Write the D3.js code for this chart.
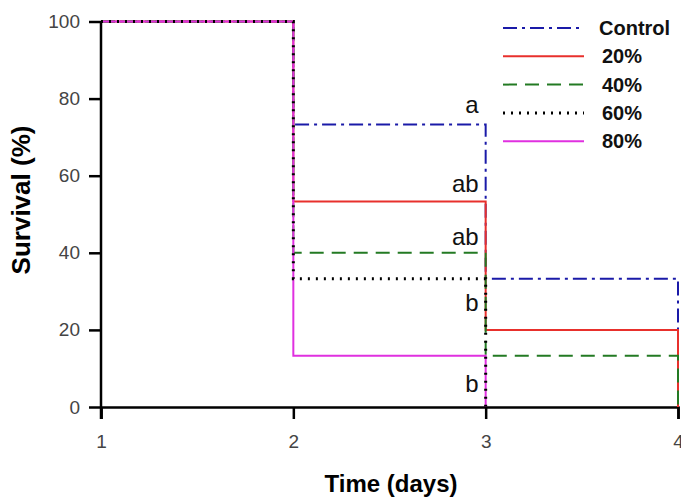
<!DOCTYPE html>
<html lang="en">
<head>
<meta charset="utf-8">
<title>Survival</title>
<script src="https://cdn.jsdelivr.net/npm/d3@7"></script>
<style>
  body { margin: 0; background: #fff; }
  text { font-family: "Liberation Sans", Arial, sans-serif; }
</style>
</head>
<body>
<script>
// survival curves, days 1-4
var days = [1, 2, 3, 4];
var control = [100, 73.3, 33.3, 0];
var p20 = [100, 53.3, 20, 0];
var p40 = [100, 40, 13.3, 0];
var p60 = [100, 33.3, 0];
var p80 = [100, 13.3, 0];
var seriesNames = ["Control", "20%", "40%", "60%", "80%"];
var letters = ["a", "ab", "ab", "b", "b"];
var letterValues = [76.3, 55.8, 42, 25, 3.9];

var series = [
  {name: "Control", values: control, color: "#1a1aa8", dash: "14,5,3,5", w: 2},
  {name: "20%", values: p20, color: "#e8302c", dash: null, w: 2},
  {name: "40%", values: p40, color: "#237a23", dash: "14,8", w: 2},
  {name: "80%", values: p80, color: "#e030e0", dash: null, w: 2},
  {name: "60%", values: p60, color: "#000", dash: "2,6", w: 3}
];

var width = 681, height = 498;
var svg = d3.select("body").append("svg")
  .attr("width", width).attr("height", height);

var x = d3.scaleLinear().domain([1, 4]).range([101, 678]);
var y = d3.scaleLinear().domain([0, 100]).range([407, 21.5]);

// axes
var xAxis = svg.append("g")
  .attr("transform", "translate(0," + y(0) + ")")
  .call(d3.axisBottom(x).tickValues(days).tickFormat(d3.format("d")).tickSize(12).tickPadding(16));
var yAxis = svg.append("g")
  .attr("transform", "translate(" + x(1) + ",0)")
  .call(d3.axisLeft(y).tickValues([0, 20, 40, 60, 80, 100]).tickSize(12).tickPadding(9));

[xAxis, yAxis].forEach(function(a) {
  a.select(".domain").attr("stroke", "#000").attr("stroke-width", 2.5);
  a.selectAll(".tick line").attr("stroke", "#000").attr("stroke-width", 2.5);
  a.selectAll(".tick text").attr("fill", "#444").style("font-size", "19px");
});
yAxis.select(".domain").attr("d", "M0," + y(100) + "V" + (y(0) + 12));

// lines
var line = d3.line()
  .x(function(d, i) { return x(days[i]); })
  .y(function(d) { return y(d); })
  .curve(d3.curveStepAfter);

svg.append("g").selectAll("path")
  .data(series)
  .enter().append("path")
    .attr("d", function(d) { return line(d.values); })
    .attr("fill", "none")
    .attr("stroke", function(d) { return d.color; })
    .attr("stroke-width", function(d) { return d.w; })
    .attr("stroke-dasharray", function(d) { return d.dash; });

// significance letters
svg.append("g").selectAll("text")
  .data(letters)
  .enter().append("text")
    .attr("x", x(3) - 7)
    .attr("y", function(d, i) { return y(letterValues[i]); })
    .attr("text-anchor", "end")
    .style("font-size", "24px")
    .attr("fill", "#111")
    .text(function(d) { return d; });

// legend
var legendOrder = ["Control", "20%", "40%", "60%", "80%"];
var leg = svg.append("g").selectAll("g")
  .data(legendOrder.map(function(n) { return series.find(function(s) { return s.name === n; }); }))
  .enter().append("g")
    .attr("transform", function(d, i) { return "translate(0," + (28 + i * 28.3) + ")"; });
leg.append("line")
  .attr("x1", 503).attr("x2", 584)
  .attr("stroke", function(d) { return d.color; })
  .attr("stroke-width", function(d) { return d.w; })
  .attr("stroke-dasharray", function(d) { return d.dash; });
leg.append("text")
  .attr("x", function(d, i) { return i === 0 ? 599 : 602; })
  .attr("y", 7)
  .style("font-size", "20px")
  .style("font-weight", "bold")
  .attr("fill", "#111")
  .text(function(d) { return d.name; });

// axis titles
svg.append("text")
  .attr("x", 391).attr("y", 492)
  .attr("text-anchor", "middle")
  .style("font-size", "24px").style("font-weight", "bold")
  .text("Time (days)");
svg.append("text")
  .attr("transform", "translate(30,200) rotate(-90)")
  .attr("text-anchor", "middle")
  .style("font-size", "26px").style("font-weight", "bold")
  .text("Survival (%)");
</script>
</body>
</html>
